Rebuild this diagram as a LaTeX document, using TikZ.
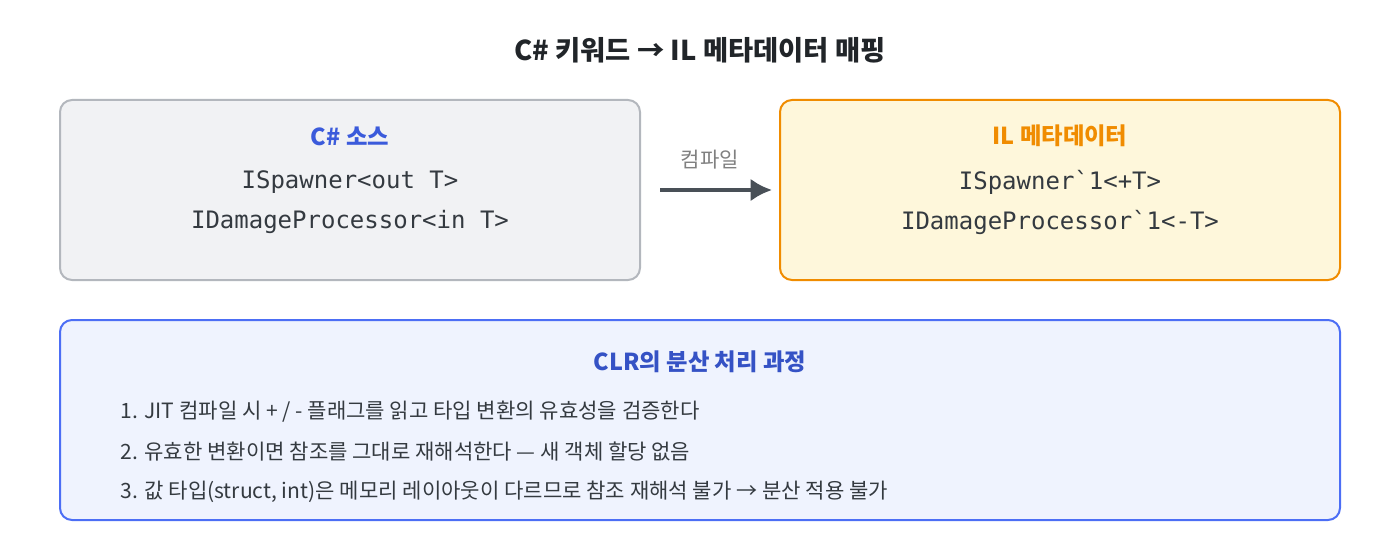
\documentclass[tikz,border=0pt]{standalone}
\usepackage{fontspec}
\usetikzlibrary{arrows.meta}
\setmainfont{Noto Sans CJK KR}
\newfontfamily\monof{DejaVu Sans Mono}
\definecolor{graybg}{HTML}{F1F2F4}
\definecolor{grayln}{HTML}{B3B7BD}
\definecolor{yelbg}{HTML}{FEF7DB}
\definecolor{orng}{HTML}{F08C00}
\definecolor{bluebg}{HTML}{EFF3FE}
\definecolor{blueln}{HTML}{4C6EF5}
\definecolor{bluetx}{HTML}{3B5BDB}
\definecolor{darktx}{HTML}{212529}
\definecolor{txt}{HTML}{343A40}
\definecolor{arr}{HTML}{495057}
\begin{document}
\begin{tikzpicture}[x=0.75pt,y=-0.75pt,
  box/.style={rounded corners=9pt,line width=1.5pt},
  code/.style={font=\monof\fontsize{18}{21}\selectfont,text=txt,anchor=center},
  head/.style={font=\bfseries\fontsize{17.5}{20}\selectfont,anchor=center},
  item/.style={font=\fontsize{15.8}{18}\selectfont,text=txt,anchor=west}]
\useasboundingbox (0,0) rectangle (1400,560);
\node[font=\bfseries\fontsize{20.5}{24}\selectfont,text=darktx] (title) at (700,50) {C\# 키워드 → IL 메타데이터 매핑};
\draw[box,fill=graybg,draw=grayln] (60,100) rectangle (640,280);
\node[head,text=bluetx] (lh) at (350,136) {C\# 소스};
\node[code] (l1) at (350,182) {ISpawner<out T>};
\node[code] (l2) at (350,222) {IDamageProcessor<in T>};
\draw[box,fill=yelbg,draw=orng] (780,100) rectangle (1340,280);
\node[head,text=orng] (rh) at (1060,136) {IL 메타데이터};
\node[code] (r1) at (1060,182) {ISpawner\char96 1<+T>};
\node[code] (r2) at (1060,222) {IDamageProcessor\char96 1<-T>};
\coordinate (a1) at (660,190);
\coordinate (a2) at (772,190);
\draw[arr,line width=3pt,-{Latex[length=16pt,width=17pt]}] (a1) -- (a2);
\node[font=\fontsize{15.8}{18}\selectfont,text=gray] (al) at (710,160) {컴파일};
\draw[box,fill=bluebg,draw=blueln] (60,320) rectangle (1340,520);
\node[head,text=bluetx!90!black] (bh) at (700,362) {CLR의 분산 처리 과정};
\node[item] (i1) at (116,412) {1. JIT 컴파일 시 + / - 플래그를 읽고 타입 변환의 유효성을 검증한다};
\node[item] (i2) at (116,452) {2. 유효한 변환이면 참조를 그대로 재해석한다 — 새 객체 할당 없음};
\node[item] (i3) at (116,492) {3. 값 타입(struct, int)은 메모리 레이아웃이 다르므로 참조 재해석 불가 → 분산 적용 불가};
\end{tikzpicture}
\end{document}
